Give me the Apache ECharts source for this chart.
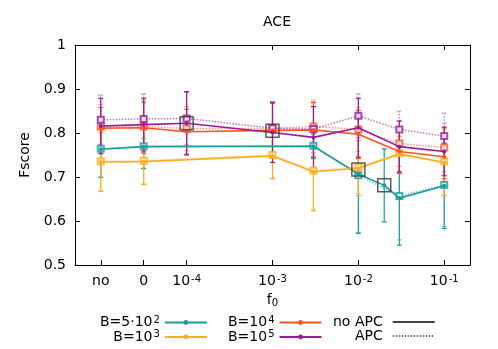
<!DOCTYPE html>
<html>
<head>
<meta charset="utf-8">
<script src="https://cdn.jsdelivr.net/npm/echarts@6/dist/echarts.min.js"></script>
<style>
html, body { margin: 0; padding: 0; background: #fff; }
#chart-container { width: 498px; height: 349px; }
</style>
</head>
<body>
<div id="chart-container"></div>
<script>
// f0 values along the x axis ('no' and '0' sit left of the log decades)
var f0Labels = ['no', '0', '1e-4', '1e-3', '3e-3', '1e-2', '2e-2', '3e-2', '1e-1'];
var xTickValues = [-5, -4.5, -4, -3, -2, -1];

// B = 5*10^2
var b500 = [0.763, 0.769, null, null, 0.770, 0.707, 0.681, 0.652, 0.680];
var b500Err = [0.064, 0.050, null, null, 0.028, 0.135, 0.083, 0.107, 0.097];
var b500Apc = [0.764, 0.770, null, null, 0.771, 0.704, null, 0.657, 0.682];
var b500ApcErr = [0.064, 0.050, null, null, 0.028, 0.130, null, 0.100, 0.095];

// B = 10^3
var b1k = [0.734, 0.735, null, 0.748, 0.712, 0.720, null, 0.752, 0.733];
var b1kErr = [0.067, 0.052, null, 0.052, 0.089, 0.062, null, 0.040, 0.076];
var b1kApc = [0.736, 0.737, null, 0.750, 0.715, 0.722, null, 0.754, 0.735];
var b1kApcErr = [0.066, 0.052, null, 0.052, 0.088, 0.060, null, 0.040, 0.075];

// B = 10^4
var b10k = [0.811, 0.812, 0.803, 0.806, 0.807, 0.797, null, 0.758, 0.746];
var b10kErr = [0.047, 0.058, 0.051, 0.062, 0.062, 0.055, null, 0.050, 0.050];
var b10kApc = [0.815, 0.815, 0.810, 0.810, 0.815, 0.808, null, 0.776, 0.767];
var b10kApcErr = [0.050, 0.060, 0.050, 0.062, 0.060, 0.050, null, 0.052, 0.055];

// B = 10^5
var b100k = [0.816, 0.819, 0.822, 0.801, 0.790, 0.812, null, 0.769, 0.758];
var b100kErr = [0.063, 0.060, 0.072, 0.068, 0.070, 0.067, null, 0.058, 0.055];
var b100kApc = [0.830, 0.832, 0.833, 0.811, 0.809, 0.839, null, 0.808, 0.793];
var b100kApcErr = [0.056, 0.057, 0.060, 0.060, 0.062, 0.050, null, 0.042, 0.052];

// highlighted points (black boxes)
var bestF0 = ['1e-4', '1e-3', '1e-2', '2e-2'];
var bestScore = [0.822, 0.805, 0.717, 0.681];

var FONT = 'DejaVu Sans';
var FS = 14;
var colTeal = '#189c9c', colYellow = '#ffad1f', colRed = '#ff5324', colPurple = '#9a1a9a';

function xPos(label) {
  if (label === 'no') return -5;
  if (label === '0') return -4.5;
  return Math.log10(Number(label));
}

function pairs(vals) {
  var out = [];
  vals.forEach(function (v, i) {
    if (v != null) out.push([xPos(f0Labels[i]), v]);
  });
  return out;
}

function errData(vals, errs) {
  var out = [];
  vals.forEach(function (v, i) {
    if (v != null && errs[i] != null) out.push([xPos(f0Labels[i]), v - errs[i], v + errs[i]]);
  });
  return out;
}

function errSeries(vals, errs, color, dotted) {
  return {
    type: 'custom',
    silent: true,
    z: 1,
    data: errData(vals, errs),
    renderItem: function (params, api) {
      var x = api.value(0);
      var lo = api.coord([x, api.value(1)]);
      var hi = api.coord([x, api.value(2)]);
      var w = 2.5;
      var style = { stroke: color, lineWidth: 1.2, opacity: dotted ? 0.6 : 1, lineDash: dotted ? [1.5, 1.5] : null };
      return {
        type: 'group',
        children: [
          { type: 'line', shape: { x1: lo[0], y1: hi[1], x2: lo[0], y2: lo[1] }, style: style },
          { type: 'line', shape: { x1: lo[0] - w, y1: hi[1], x2: lo[0] + w, y2: hi[1] }, style: style },
          { type: 'line', shape: { x1: lo[0] - w, y1: lo[1], x2: lo[0] + w, y2: lo[1] }, style: style }
        ]
      };
    }
  };
}

function solidSeries(name, vals, color) {
  return {
    name: name,
    type: 'line',
    z: 3,
    data: pairs(vals),
    symbol: 'circle',
    symbolSize: 4,
    lineStyle: { color: color, width: 1.6 },
    itemStyle: { color: color },
    emphasis: { disabled: true }
  };
}

function apcSeries(name, vals, color) {
  return {
    name: name,
    type: 'line',
    z: 2,
    data: pairs(vals),
    symbol: 'emptyRect',
    symbolSize: 6,
    lineStyle: { color: color, width: 1.5, type: [1.5, 1.5], opacity: 0.6 },
    itemStyle: { color: color, borderWidth: 1.2, opacity: 0.8 },
    emphasis: { disabled: true }
  };
}

function sup(base, exp) {
  return '{b|' + base + '}{s|' + exp + '}';
}

var supRich = {
  b: { fontFamily: FONT, fontSize: FS, color: '#000', lineHeight: 15 },
  c: { fontFamily: FONT, fontSize: FS, color: '#000', lineHeight: 15, padding: [0, 5, 0, 0] },
  s: { fontFamily: FONT, fontSize: 10, color: '#000', verticalAlign: 'top', lineHeight: 10, padding: [0, 0, 0, 1] }
};

var legendNames = {
  'B=5·10^2': sup('B=5·10', '2'),
  'B=10^3': sup('B=10', '3'),
  'B=10^4': sup('B=10', '4'),
  'B=10^5': sup('B=10', '5'),
  'no APC': '{c|no APC}',
  'APC': '{c|APC}'
};

var dom = document.getElementById('chart-container');
var myChart = echarts.init(dom, null, { renderer: 'canvas' });

var bestPts = bestF0.map(function (f, i) { return [xPos(f), bestScore[i]]; });

var legendBase = {
  orient: 'vertical',
  align: 'right',
  itemWidth: 42,
  itemHeight: 6,
  itemGap: 0,
  padding: 0,
  height: 40,
  selectedMode: false,
  formatter: function (n) { return legendNames[n]; },
  textStyle: { rich: supRich }
};

var option = {
  animation: false,
  title: {
    text: 'ACE',
    left: 272,
    top: 10,
    textAlign: 'center',
    textStyle: { fontFamily: FONT, fontSize: FS, fontWeight: 'normal', color: '#000' }
  },
  legend: [
    Object.assign({}, legendBase, { data: ['B=5·10^2', 'B=10^3'], left: 100, top: 315 }),
    Object.assign({}, legendBase, { data: ['B=10^4', 'B=10^5'], left: 228, top: 315 }),
    Object.assign({}, legendBase, { data: ['no APC', 'APC'], left: 333, top: 315 })
  ],
  grid: { left: 75, right: 28, top: 45, bottom: 84 },
  xAxis: [
    {
      type: 'value',
      min: -5.3,
      max: -0.7,
      position: 'bottom',
      name: '{b|f}{u|0}',
      nameLocation: 'middle',
      nameGap: 26,
      nameTextStyle: {
        rich: {
          b: { fontFamily: FONT, fontSize: FS, color: '#000' },
          u: { fontFamily: FONT, fontSize: 10, color: '#000', verticalAlign: 'bottom', padding: [6, 0, 0, 0] }
        }
      },
      axisLine: { lineStyle: { color: '#000', width: 1 } },
      axisTick: { inside: true, length: 5, customValues: xTickValues, lineStyle: { color: '#000' } },
      axisLabel: {
        customValues: xTickValues,
        margin: 9,
        formatter: function (v) {
          var r = Math.round(v * 2) / 2;
          if (r === -5) return '{b|no}';
          if (r === -4.5) return '{b|0}';
          return sup('10', String(r));
        },
        rich: supRich
      },
      splitLine: { show: false }
    },
    {
      type: 'value',
      min: -5.3,
      max: -0.7,
      position: 'top',
      axisLine: { lineStyle: { color: '#000', width: 1 } },
      axisTick: { inside: true, length: 5, customValues: [-3, -2, -1], lineStyle: { color: '#000' } },
      axisLabel: { show: false },
      splitLine: { show: false }
    }
  ],
  yAxis: [
    {
      type: 'value',
      min: 0.5,
      max: 1,
      interval: 0.1,
      name: 'Fscore',
      nameLocation: 'middle',
      nameGap: 38,
      nameTextStyle: { fontFamily: FONT, fontSize: FS, color: '#000' },
      axisLine: { show: true, lineStyle: { color: '#000', width: 1 } },
      axisTick: { show: true, inside: true, length: 5, lineStyle: { color: '#000' } },
      axisLabel: {
        fontFamily: FONT, fontSize: FS, color: '#000', margin: 9,
        formatter: function (v) { return String(Math.round(v * 10) / 10); }
      },
      splitLine: { show: false }
    },
    {
      type: 'value',
      min: 0.5,
      max: 1,
      interval: 0.1,
      position: 'right',
      axisLine: { show: true, lineStyle: { color: '#000', width: 1 } },
      axisTick: { show: true, inside: true, length: 5, lineStyle: { color: '#000' } },
      axisLabel: { show: false },
      splitLine: { show: false }
    }
  ],
  series: [
    errSeries(b500Apc, b500ApcErr, colTeal, true),
    errSeries(b1kApc, b1kApcErr, colYellow, true),
    errSeries(b10kApc, b10kApcErr, colRed, true),
    errSeries(b100kApc, b100kApcErr, colPurple, true),
    errSeries(b500, b500Err, colTeal, false),
    errSeries(b1k, b1kErr, colYellow, false),
    errSeries(b10k, b10kErr, colRed, false),
    errSeries(b100k, b100kErr, colPurple, false),
    apcSeries('B=5·10^2 (APC)', b500Apc, colTeal),
    apcSeries('B=10^3 (APC)', b1kApc, colYellow),
    apcSeries('B=10^4 (APC)', b10kApc, colRed),
    apcSeries('B=10^5 (APC)', b100kApc, colPurple),
    solidSeries('B=5·10^2', b500, colTeal),
    solidSeries('B=10^3', b1k, colYellow),
    solidSeries('B=10^4', b10k, colRed),
    solidSeries('B=10^5', b100k, colPurple),
    {
      name: 'best',
      type: 'scatter',
      z: 5,
      data: bestPts,
      symbol: 'rect',
      symbolSize: 13,
      itemStyle: { color: 'rgba(0,0,0,0)', borderColor: '#333', borderWidth: 1.5 },
      emphasis: { disabled: true }
    },
    { name: 'no APC', type: 'line', data: [], symbol: 'none', itemStyle: { color: 'rgba(0,0,0,0)' }, lineStyle: { color: '#444', width: 1.2 } },
    { name: 'APC', type: 'line', data: [], symbol: 'none', itemStyle: { color: 'rgba(0,0,0,0)' }, lineStyle: { color: '#777', width: 1.2, type: [1.5, 1.5] } }
  ]
};

myChart.setOption(option);
window.addEventListener('resize', myChart.resize);
</script>
</body>
</html>
